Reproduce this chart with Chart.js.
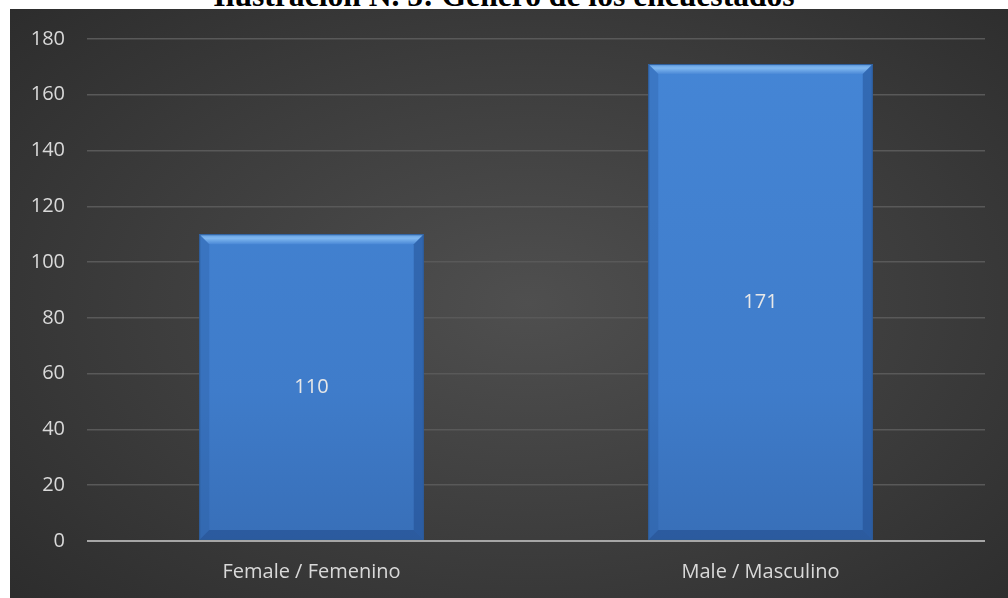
<!DOCTYPE html>
<html>
<head>
<meta charset="utf-8">
<script src="https://cdn.jsdelivr.net/npm/chart.js@4.4.1/dist/chart.umd.min.js"></script>
<style>
  html, body { margin: 0; padding: 0; background: #fff; overflow: hidden; }
  #title { position: absolute; left: 0; width: 1008px; top: -20px; text-align: center;
    font: bold 31.6px "Liberation Serif", "Times New Roman", serif; color: #000; line-height: 31px; white-space: nowrap; }
  #panel { position: absolute; left: 10px; top: 9px; width: 998px; height: 589px; overflow: hidden;
    background: radial-gradient(ellipse 75% 80% at 52% 50%, #4f4f4f 0%, #3d3d3d 50%, #2a2a2a 100%); }
  #chart { position: absolute; left: 0; top: -4px; }
</style>
</head>
<body>
<div id="title">Ilustración N. 5: Género de los encuestados</div>
<div id="panel"><canvas id="chart" width="998" height="593"></canvas></div>
<script>
const categories = ['Female / Femenino', 'Male / Masculino'];
const counts = [110, 171];
const yTicks = [0, 20, 40, 60, 80, 100, 120, 140, 160, 180];

const labelFont = '"Open Sans", "Noto Sans", sans-serif';

// bevelled bar edges, like an office-style 3D bar
const bevelPlugin = {
  id: 'bevel',
  afterDatasetsDraw(chart) {
    const ctx = chart.ctx;
    const bw = 10;
    chart.getDatasetMeta(0).data.forEach(bar => {
      const l = bar.x - bar.width / 2, r = bar.x + bar.width / 2;
      const t = bar.y, b = bar.base;
      ctx.save();
      // top
      let g = ctx.createLinearGradient(0, t, 0, t + bw);
      g.addColorStop(0, '#5f9be0');
      g.addColorStop(0.4, '#80b8f0');
      g.addColorStop(1, '#4a88d6');
      ctx.fillStyle = g;
      ctx.beginPath();
      ctx.moveTo(l, t); ctx.lineTo(r, t); ctx.lineTo(r - bw, t + bw); ctx.lineTo(l + bw, t + bw);
      ctx.closePath(); ctx.fill();
      // left
      ctx.fillStyle = 'rgba(40,90,160,0.3)';
      ctx.beginPath();
      ctx.moveTo(l, t); ctx.lineTo(l + bw, t + bw); ctx.lineTo(l + bw, b - bw); ctx.lineTo(l, b);
      ctx.closePath(); ctx.fill();
      // right
      ctx.fillStyle = 'rgba(25,65,130,0.4)';
      ctx.beginPath();
      ctx.moveTo(r, t); ctx.lineTo(r - bw, t + bw); ctx.lineTo(r - bw, b - bw); ctx.lineTo(r, b);
      ctx.closePath(); ctx.fill();
      // bottom
      ctx.fillStyle = 'rgba(25,60,120,0.4)';
      ctx.beginPath();
      ctx.moveTo(l, b); ctx.lineTo(l + bw, b - bw); ctx.lineTo(r - bw, b - bw); ctx.lineTo(r, b);
      ctx.closePath(); ctx.fill();
      ctx.strokeStyle = '#2c5b98';
      ctx.lineWidth = 1;
      ctx.strokeRect(l + 0.5, t + 0.5, bar.width - 1, b - t - 1);
      ctx.restore();
    });
  }
};

// value printed in the middle of each bar
const valueLabels = {
  id: 'valueLabels',
  afterDatasetsDraw(chart) {
    const ctx = chart.ctx;
    const ds = chart.data.datasets[0];
    ctx.save();
    ctx.font = '20px ' + labelFont;
    ctx.fillStyle = '#e8e8e8';
    ctx.textAlign = 'center';
    ctx.textBaseline = 'middle';
    chart.getDatasetMeta(0).data.forEach((bar, i) => {
      ctx.fillText(String(ds.data[i]), bar.x, (bar.y + bar.base) / 2);
    });
    ctx.restore();
  }
};

const ctx = document.getElementById('chart').getContext('2d');
new Chart(ctx, {
  type: 'bar',
  data: {
    labels: categories,
    datasets: [{
      data: counts,
      backgroundColor: c => {
        const area = c.chart.chartArea;
        if (!area) return '#4080d0';
        const g = c.chart.ctx.createLinearGradient(0, area.top, 0, area.bottom);
        g.addColorStop(0, '#4586d6');
        g.addColorStop(0.7, '#3f7cca');
        g.addColorStop(1, '#386fb8');
        return g;
      },
      borderWidth: 0,
      categoryPercentage: 0.5,
      barPercentage: 1
    }]
  },
  options: {
    responsive: false,
    animation: false,
    layout: { padding: { top: 27, right: 23, left: 0, bottom: 0 } },
    plugins: { legend: { display: false }, tooltip: { enabled: false } },
    scales: {
      x: {
        grid: { display: false, drawTicks: false },
        border: { display: false },
        ticks: { color: '#d9d9d9', font: { family: labelFont, size: 20 }, padding: 19 },
        afterFit: s => { s.height = 57; }
      },
      y: {
        min: 0, max: 180,
        afterBuildTicks: s => { s.ticks = yTicks.map(v => ({ value: v })); },
        grid: {
          drawTicks: false,
          color: c => c.tick.value === 0 ? '#a6a6a6' : '#595959',
          lineWidth: c => c.tick.value === 0 ? 2 : 1.5
        },
        border: { display: false },
        ticks: { color: '#d9d9d9', font: { family: labelFont, size: 20 }, padding: 22 },
        afterFit: s => { s.width = 77; }
      }
    }
  },
  plugins: [bevelPlugin, valueLabels]
});
</script>
</body>
</html>
